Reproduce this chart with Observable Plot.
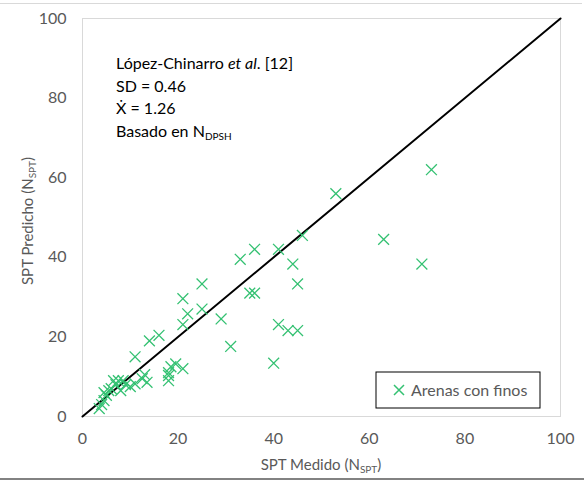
<!DOCTYPE html>
<html>
<head>
<meta charset="utf-8">
<script src="https://cdn.jsdelivr.net/npm/d3@7"></script>
<script src="https://cdn.jsdelivr.net/npm/@observablehq/plot@0.6"></script>
<style>
  html, body { margin: 0; padding: 0; background: #fff; }
  #chart { width: 584px; height: 481px; }
</style>
</head>
<body>
<div id="chart"></div>
<script>
// Measured SPT (N_SPT) vs predicted SPT — "Arenas con finos"
const medido = [73, 53, 46, 41, 63, 44, 71, 45, 41, 43, 45, 40,
  33, 36, 25, 35, 36, 21, 22, 25, 21, 29, 16, 14, 31, 11,
  19.5, 18.5, 21, 18, 18, 18, 13, 13.5, 11, 12.5,
  6.5, 7.5, 8.5, 7, 9, 10, 4.5, 5.5, 5, 4.5, 4, 3.5, 6, 8];
const predicho = [62, 56, 45.5, 42, 44.5, 38.3, 38.3, 33.3, 23.1, 21.6, 21.6, 13.4,
  39.5, 42, 33.3, 31, 31, 29.6, 25.8, 27, 23.1, 24.5, 20.4, 19, 17.6, 15,
  13.2, 12.5, 12, 11, 10.3, 9, 10.5, 8.6, 8.2, 9.5,
  9, 9, 9, 8, 8, 7.5, 6, 6.5, 5.3, 4, 3, 2, 7, 6.5];
const lineaX = [0, 100];
const lineaY = [0, 100];
const xTicks = [0, 20, 40, 60, 80, 100];
const yTicks = [0, 20, 40, 60, 80, 100];
const serieNombre = "Arenas con finos";
const anotacion = ["López-Chinarro", "SD = 0.46", "Ẋ = 1.26", "Basado en N"];

const puntos = medido.map((x, i) => ({x, y: predicho[i]}));
const diag = lineaX.map((x, i) => ({x, y: lineaY[i]}));

const green = "#34c172";
const W = 584, H = 481;
const mL = 82, mR = 24, mT = 18, mB = 65;
const ff = "Lato, 'Open Sans', sans-serif";

const chart = Plot.plot({
  width: W, height: H,
  marginLeft: mL, marginRight: mR, marginTop: mT, marginBottom: mB,
  style: {fontFamily: ff, fontSize: "16px", color: "#595959", background: "#fff", overflow: "visible"},
  x: {domain: [0, 100]},
  y: {domain: [0, 100]},
  marks: [
    Plot.frame({stroke: "#d9d9d9", strokeWidth: 1}),
    Plot.axisX({ticks: xTicks, tickSize: 0, tickPadding: 16, label: null, fill: "#595959", fontSize: 16}),
    Plot.axisY({ticks: yTicks, tickSize: 0, tickPadding: 16, label: null, fill: "#595959", fontSize: 16}),
    Plot.line(diag, {x: "x", y: "y", stroke: "#000", strokeWidth: 2}),
    Plot.dot(puntos, {x: "x", y: "y", symbol: "times", r: 5, stroke: green, strokeWidth: 1.3})
  ]
});
document.getElementById("chart").appendChild(chart);

const svg = d3.select(chart);
// outer chart border lines
svg.append("line").attr("x1", 0).attr("x2", 582).attr("y1", 3.5).attr("y2", 3.5).attr("stroke", "#d9d9d9");
svg.append("line").attr("x1", 0).attr("x2", W).attr("y1", 479).attr("y2", 479).attr("stroke", "#595959").attr("stroke-width", 1.5);

// x axis title
const xt = svg.append("text").attr("x", (mL + W - mR) / 2).attr("y", 470)
  .attr("text-anchor", "middle").attr("font-family", ff).attr("font-size", 15).attr("fill", "#595959");
xt.append("tspan").text("SPT Medido (N");
xt.append("tspan").attr("font-size", 10).attr("dy", 3).text("SPT");
xt.append("tspan").attr("dy", -3).text(")");
// y axis title
const yt = svg.append("text").attr("transform", `translate(33,${(mT + H - mB) / 2 + 4}) rotate(-90)`)
  .attr("text-anchor", "middle").attr("font-family", ff).attr("font-size", 15).attr("fill", "#595959");
yt.append("tspan").text("SPT Predicho (N");
yt.append("tspan").attr("font-size", 10).attr("dy", 3).text("SPT");
yt.append("tspan").attr("dy", -3).text(")");

// annotation
const ax = 116, ay0 = 69, dy = 22.5;
const a = svg.append("g").attr("font-family", ff).attr("font-size", 16).attr("fill", "#000").attr("text-anchor", "start");
const l1 = a.append("text").attr("x", ax).attr("y", ay0);
l1.append("tspan").text(anotacion[0] + " ");
l1.append("tspan").attr("font-style", "italic").text("et al");
l1.append("tspan").text(". [12]");
a.append("text").attr("x", ax).attr("y", ay0 + dy).text(anotacion[1]);
a.append("text").attr("x", ax).attr("y", ay0 + 2 * dy).text(anotacion[2]);
const l4 = a.append("text").attr("x", ax).attr("y", ay0 + 3 * dy);
l4.append("tspan").text(anotacion[3]);
l4.append("tspan").attr("font-size", 10).attr("dy", 3).text("DPSH");

// legend
const lg = svg.append("g").attr("transform", "translate(376,372)").attr("text-anchor", "start");
lg.append("rect").attr("width", 164).attr("height", 36).attr("fill", "#fff").attr("stroke", "#000").attr("stroke-width", 1);
lg.append("path").attr("d", "M18,13L28,23M28,13L18,23").attr("fill", "none").attr("stroke", green).attr("stroke-width", 1.5);
lg.append("text").attr("x", 35).attr("y", 24).attr("font-family", ff).attr("font-size", 16).attr("fill", "#595959").text(serieNombre);
</script>
</body>
</html>
